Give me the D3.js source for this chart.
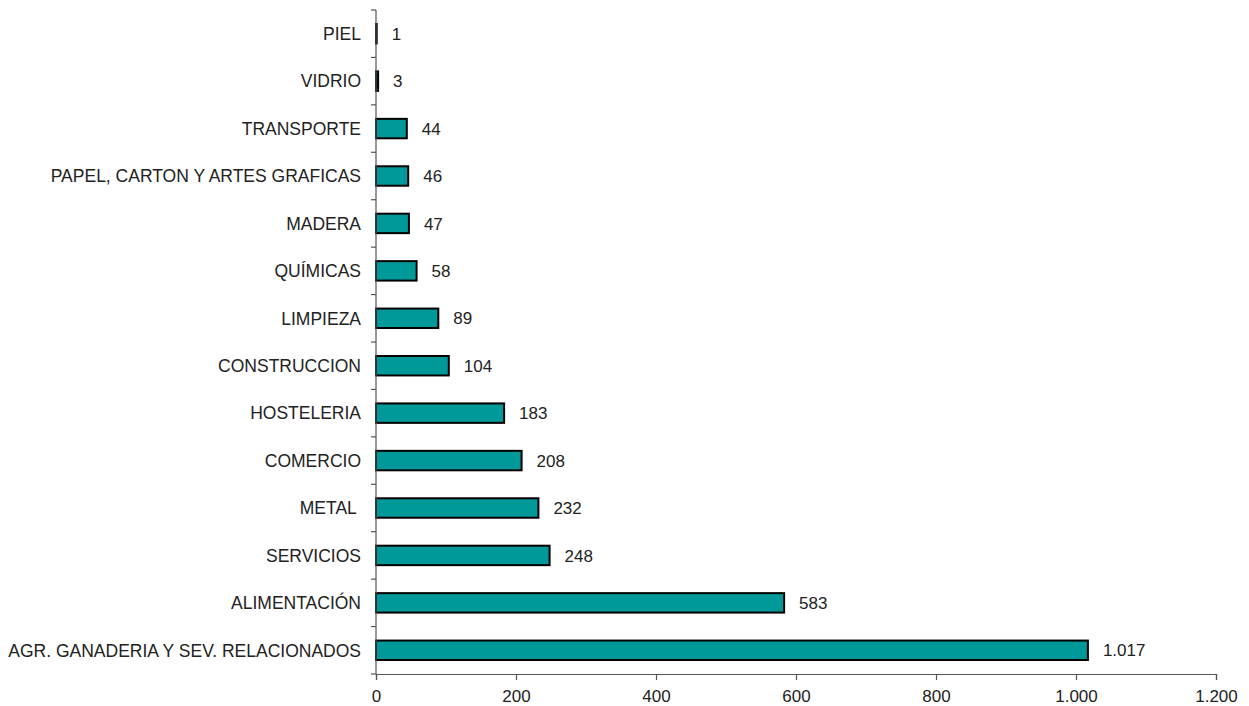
<!DOCTYPE html>
<html><head><meta charset="utf-8">
<script src="https://cdn.jsdelivr.net/npm/d3@7"></script>
<style>
body{margin:0;background:#fff;}
text{font-family:"Liberation Sans",Arial,sans-serif;}
</style></head>
<body><svg id="c" width="1249" height="706"></svg>
<script>
const categories = ["PIEL","VIDRIO","TRANSPORTE","PAPEL, CARTON Y ARTES GRAFICAS","MADERA","QUÍMICAS","LIMPIEZA","CONSTRUCCION","HOSTELERIA","COMERCIO","METAL ","SERVICIOS","ALIMENTACIÓN","AGR. GANADERIA Y SEV. RELACIONADOS"];
const values = [1,3,44,46,47,58,89,104,183,208,232,248,583,1017];
const xTicks = [0,200,400,600,800,1000,1200];

(function(){
const svg = d3.select("#c");
const mLeft = 376, mRight = 1216, mTop = 10, mBottom = 674;
const loc = d3.formatLocale({decimal:",", thousands:".", grouping:[3], currency:["","€"]});
const fmt = loc.format(",d");

const x = d3.scaleLinear().domain([0,1200]).range([mLeft,mRight]);
const y = d3.scaleBand().domain(categories).range([mTop,mBottom]).paddingInner(0.59).paddingOuter(0.295);
const band = d3.scaleBand().domain(categories).range([mTop,mBottom]);

// bars
svg.append("g").selectAll("rect").data(categories).join("rect")
  .attr("x", x(0))
  .attr("y", d => y(d))
  .attr("width", (d,i) => Math.max(0.5, x(values[i]) - x(0)))
  .attr("height", y.bandwidth())
  .attr("fill", "#009999")
  .attr("stroke", "#000")
  .attr("stroke-width", 2);

// value labels
svg.append("g").selectAll("text").data(categories).join("text")
  .attr("x", (d,i) => x(values[i]) + 15)
  .attr("y", d => y(d) + y.bandwidth()/2)
  .attr("dy", "0.36em")
  .attr("font-size", 17)
  .attr("fill", "#222")
  .text((d,i) => fmt(values[i]));

// y axis
const ya = svg.append("g");
ya.append("line").attr("x1", mLeft).attr("x2", mLeft).attr("y1", mTop).attr("y2", mBottom).attr("stroke", "#555").attr("stroke-width", 1.2);
const bounds = categories.map(c => band(c)).concat([mBottom]);
ya.selectAll("line.t").data(bounds).join("line").attr("class","t")
  .attr("x1", mLeft-5).attr("x2", mLeft).attr("y1", d => d).attr("y2", d => d)
  .attr("stroke", "#555").attr("stroke-width", 1.2);
ya.selectAll("text").data(categories).join("text")
  .attr("x", mLeft - 15)
  .attr("y", d => band(d) + band.bandwidth()/2)
  .attr("dy", "0.36em")
  .attr("text-anchor", "end")
  .attr("font-size", 17.5)
  .attr("fill", "#222")
  .style("white-space", "pre")
  .text(d => d);

// x axis
const xa = svg.append("g").attr("transform", `translate(0,${mBottom})`)
  .call(d3.axisBottom(x).tickValues(xTicks).tickSize(6).tickPadding(10).tickFormat(d => fmt(d)));
xa.select(".domain").attr("stroke", "#555").attr("stroke-width", 1.2);
xa.selectAll(".tick line").attr("stroke", "#555").attr("stroke-width", 1.2);
xa.selectAll(".tick text").attr("font-size", 17).attr("fill", "#222").attr("font-family", "Liberation Sans, Arial, sans-serif");
})();
</script></body></html>
